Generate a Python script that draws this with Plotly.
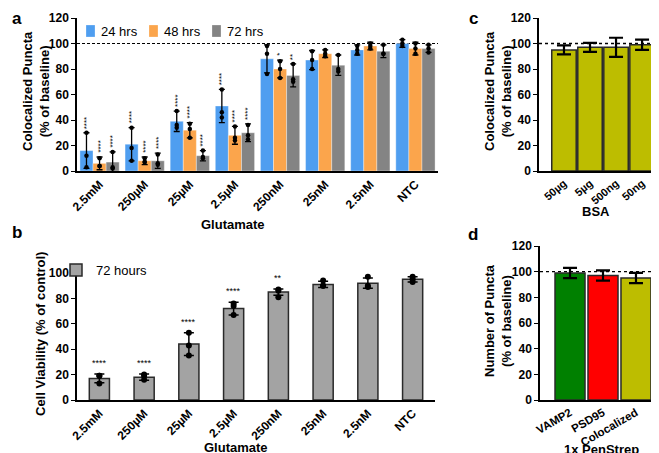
import plotly.graph_objects as go

# ---------------- data ----------------
glut_labels = ["2.5mM", "250µM", "25µM", "2.5µM", "250nM", "25nM", "2.5nM", "NTC"]

a_24_mean = [16, 21, 39, 51, 88, 87, 95, 100]
a_24_sd = [14, 13, 8, 13, 11, 7.5, 4, 3]
a_48_mean = [6, 8, 32, 28, 80, 92, 98, 96]
a_48_sd = [5, 3, 6, 7, 7, 3, 3, 5]
a_72_mean = [7, 8, 12, 30, 75, 83, 94, 96]
a_72_sd = [8, 6, 4, 7, 9, 8, 5, 3]

a_24_pts = [[30, 12, 3], [34, 18, 8], [47, 36, 34], [64, 46, 42], [98, 92, 76], [94, 87, 80], [98, 95, 92], [103, 100, 98]]
a_48_pts = [[10, 4, 4], [10, 7, 7], [37, 33, 26], [35, 26, 24], [86, 80, 73], [95, 92, 90], [100, 98, 96], [100, 96, 92]]
a_72_pts = [[15, 3, 2], [13, 6, 5], [16, 11, 10], [36, 28, 25], [84, 72, 70], [91, 80, 78], [99, 92, 92], [99, 96, 93]]

a_24_stars = ["****", "****", "****", "****", "", "", "", ""]
a_48_stars = ["****", "****", "****", "****", "*", "", "", ""]
a_72_stars = ["****", "****", "****", "****", "**", "", "", ""]

b_mean = [17, 18, 44, 72, 85, 91, 92, 95]
b_sd = [3.5, 2.5, 9, 5, 2.5, 2.5, 4, 2]
b_pts = [[19, 19, 13], [20, 19, 16], [53, 43, 35], [76, 74, 67], [87, 86, 81], [94, 90, 90], [97, 90, 89], [97, 95, 93]]
b_stars = ["****", "****", "****", "****", "**", "", "", ""]

bsa_labels = ["50µg", "5µg", "500ng", "50ng"]
c_mean = [95, 97, 97, 99]
c_sd = [3.5, 3.5, 7.5, 4]

d_labels = ["VAMP2", "PSD95", "Colocalized"]
d_mean = [99, 97, 95]
d_sd = [4, 4, 4]

legend_a = ["24 hrs", "48 hrs", "72 hrs"]

# ---------------- styling ----------------
W, H = 659, 453
FONT = "Liberation Sans, Arial, sans-serif"
C_BLUE = "#4f9ef0"
C_ORANGE = "#fba54c"
C_GRAY = "#848484"
C_BGRAY = "#a3a3a3"
C_OLIVE = "#bdbd00"
C_GREEN = "#008000"
C_RED = "#ff0000"

def px2x(p):
    return p / W

def px2y(p):
    return 1 - p / H

dom_a_x = [px2x(69), px2x(430)]
dom_a_y = [px2y(163), px2y(10)]
dom_b_x = [px2x(69), px2x(427)]
dom_b_y = [px2y(392), px2y(265)]
dom_c_x = [px2x(531), px2x(658)]
dom_c_y = [px2y(163), px2y(10)]
dom_d_x = [px2x(532), px2x(658)]
dom_d_y = [px2y(392), px2y(238)]

BARGAP = 0.13

fig = go.Figure()

# ---- panel a ----
series_a = [
    (legend_a[0], a_24_mean, a_24_sd, a_24_pts, C_BLUE, "g24"),
    (legend_a[1], a_48_mean, a_48_sd, a_48_pts, C_ORANGE, "g48"),
    (legend_a[2], a_72_mean, a_72_sd, a_72_pts, C_GRAY, "g72"),
]
for name, mean, sd, pts, col, grp in series_a:
    fig.add_trace(go.Bar(
        x=glut_labels, y=mean, name=name, showlegend=False,
        marker=dict(color=col, line=dict(width=0.6, color="rgba(255,255,255,0.6)")),
        error_y=dict(type="data", array=sd, color="black", thickness=1.3, width=3),
        offsetgroup=grp, xaxis="x", yaxis="y",
    ))
for name, mean, sd, pts, col, grp in series_a:
    xs, ys = [], []
    for lab, p in zip(glut_labels, pts):
        for v in p:
            xs.append(lab)
            ys.append(v)
    fig.add_trace(go.Scatter(
        x=xs, y=ys, mode="markers", marker=dict(color="black", size=4.5),
        offsetgroup=grp, showlegend=False, xaxis="x", yaxis="y", hoverinfo="skip",
    ))

# ---- panel b ----
fig.add_trace(go.Bar(
    x=glut_labels, y=b_mean, name="72 hours", width=0.45,
    marker=dict(color=C_BGRAY, line=dict(width=1.5, color="#2a2a2a")),
    error_y=dict(type="data", array=b_sd, color="black", thickness=1.5, width=5),
    xaxis="x2", yaxis="y2", legend="legend2",
))
bxs, bys = [], []
for lab, p in zip(glut_labels, b_pts):
    for v in p:
        bxs.append(lab)
        bys.append(v)
fig.add_trace(go.Scatter(
    x=bxs, y=bys, mode="markers", marker=dict(color="black", size=6),
    showlegend=False, xaxis="x2", yaxis="y2", hoverinfo="skip",
))

# ---- panel c ----
fig.add_trace(go.Bar(
    x=bsa_labels, y=c_mean, width=0.94, showlegend=False,
    marker=dict(color=C_OLIVE, line=dict(width=1.5, color="#2a2a2a")),
    error_y=dict(type="data", array=c_sd, color="black", thickness=2.2, width=7),
    xaxis="x3", yaxis="y3",
))

# ---- panel d ----
fig.add_trace(go.Bar(
    x=d_labels, y=d_mean, width=0.91, showlegend=False,
    marker=dict(color=[C_GREEN, C_RED, C_OLIVE], line=dict(width=1.5, color="#2a2a2a")),
    error_y=dict(type="data", array=d_sd, color="black", thickness=2.2, width=7),
    xaxis="x4", yaxis="y4",
))

# ---------------- axes ----------------
tick_font = dict(family=FONT, size=12, color="black", weight="bold")
common_y = dict(showline=True, linecolor="black", linewidth=1.5, ticks="outside", ticklen=4,
                tickcolor="black", tickwidth=1.2, showgrid=False, zeroline=False,
                tickfont=tick_font, automargin=False)
common_x = dict(showline=True, linecolor="black", linewidth=1.5, ticks="", showgrid=False,
                zeroline=False, type="category", automargin=False)

fig.update_layout(
    width=W, height=H, margin=dict(l=0, r=0, t=0, b=0, autoexpand=False),
    paper_bgcolor="white", plot_bgcolor="white",
    font=dict(family=FONT, color="black"),
    barmode="group", bargap=BARGAP, bargroupgap=0,
    scattermode="group",
    xaxis=dict(domain=dom_a_x, anchor="y", tickangle=-45, range=[-0.5, 7.5],
               tickfont=dict(family=FONT, size=12, color="black", weight="bold"), **common_x),
    yaxis=dict(domain=dom_a_y, anchor="x", range=[0, 120], tickvals=[0, 20, 40, 60, 80, 100, 120], **common_y),
    xaxis2=dict(domain=dom_b_x, anchor="y2", tickangle=-45, range=[-0.5, 7.5],
                tickfont=dict(family=FONT, size=12, color="black", weight="bold"), **common_x),
    yaxis2=dict(domain=dom_b_y, anchor="x2", range=[0, 100], tickvals=[0, 20, 40, 60, 80, 100], **common_y),
    xaxis3=dict(domain=dom_c_x, anchor="y3", tickangle=-40, range=[-0.96, 3.92],
                tickfont=dict(family=FONT, size=11, color="black", weight="bold"), **common_x),
    yaxis3=dict(domain=dom_c_y, anchor="x3", range=[0, 120], tickvals=[0, 20, 40, 60, 80, 100, 120], **common_y),
    xaxis4=dict(domain=dom_d_x, anchor="y4", tickangle=-30, range=[-0.91, 2.91],
                tickfont=dict(family=FONT, size=11.5, color="black", weight="bold"), **common_x),
    yaxis4=dict(domain=dom_d_y, anchor="x4", range=[0, 120], tickvals=[0, 20, 40, 60, 80, 100, 120], **common_y),
    legend2=dict(orientation="h", x=px2x(48), y=px2y(262), xanchor="left", yanchor="middle",
                 font=dict(family=FONT, size=13, color="black"), bgcolor="rgba(0,0,0,0)",
                 itemwidth=30),
)

# dashed/dotted reference lines at 100
fig.add_shape(type="line", xref="x domain", yref="y", x0=0, x1=1, y0=100, y1=100,
              line=dict(color="black", width=1, dash="3px,2px"), layer="below")
fig.add_shape(type="line", xref="x3 domain", yref="y3", x0=0, x1=1, y0=100, y1=100,
              line=dict(color="black", width=1.3, dash="dot"), layer="below")
fig.add_shape(type="line", xref="x4 domain", yref="y4", x0=0, x1=1, y0=100, y1=100,
              line=dict(color="black", width=1.3, dash="dot"), layer="below")

ann = []
# manual legend for panel a
leg_cols = [C_BLUE, C_ORANGE, C_GRAY]
for i, (lab, col) in enumerate(zip(legend_a, leg_cols)):
    x0 = 78 + i * 63
    fig.add_shape(type="rect", xref="paper", yref="paper", x0=px2x(x0), x1=px2x(x0 + 9),
                  y0=px2y(29), y1=px2y(17), fillcolor=col,
                  line=dict(color="rgba(255,255,255,0.5)", width=0.5))
    ann.append(dict(x=px2x(x0 + 13), y=px2y(23), xref="paper", yref="paper", text=lab, showarrow=False,
                    xanchor="left", yanchor="middle", font=dict(family=FONT, size=13, color="black")))

# significance stars, panel a (rotated)
cat_px = (dom_a_x[1] - dom_a_x[0]) * W / len(glut_labels)
bar_px = cat_px * (1 - BARGAP) / 3
for k, (stars, mean, sd) in enumerate([(a_24_stars, a_24_mean, a_24_sd),
                                       (a_48_stars, a_48_mean, a_48_sd),
                                       (a_72_stars, a_72_mean, a_72_sd)]):
    for lab, s, m, e in zip(glut_labels, stars, mean, sd):
        if s:
            ann.append(dict(x=lab, y=m + e + 1.5, xref="x", yref="y", text=s, showarrow=False,
                            textangle=-90, yanchor="bottom", xanchor="center",
                            xshift=(k - 1) * bar_px, font=dict(family=FONT, size=8, color="black")))
# panel b stars
for lab, s, m, e in zip(glut_labels, b_stars, b_mean, b_sd):
    if s:
        ann.append(dict(x=lab, y=m + e + 3, xref="x2", yref="y2", text=s, showarrow=False,
                        yanchor="bottom", font=dict(family=FONT, size=9, color="black")))

title_font = dict(family=FONT, size=13, color="black", weight="bold")
titles = [
    dict(x=px2x(28), y=px2y(83), text="Colocalized Puncta<br>(% of baseline)", textangle=-90),
    dict(x=px2x(225), y=px2y(216), text="Glutamate"),
    dict(x=px2x(32), y=px2y(326), text="Cell Viability (% of control)", textangle=-90),
    dict(x=px2x(228), y=px2y(439), text="Glutamate"),
    dict(x=px2x(490), y=px2y(83), text="Colocalized Puncta<br>(% of baseline)", textangle=-90),
    dict(x=px2x(588), y=px2y(203), text="BSA"),
    dict(x=px2x(490), y=px2y(312), text="Number of Puncta<br>(% of baseline)", textangle=-90),
    dict(x=px2x(593), y=px2y(441), text="1x PenStrep"),
]
for t in titles:
    t.update(xref="paper", yref="paper", showarrow=False, xanchor="center", yanchor="middle",
             font=title_font)
ann += titles
letter_font = dict(family=FONT, size=17, color="black", weight="bold")
for letter, lx, ly in [("a", 9, 10), ("b", 9, 224), ("c", 465, 10), ("d", 465, 226)]:
    ann.append(dict(x=px2x(lx), y=px2y(ly), xref="paper", yref="paper", showarrow=False,
                    xanchor="center", yanchor="middle", text=letter, font=letter_font))
fig.update_layout(annotations=ann)

fig.write_html("out.html")
